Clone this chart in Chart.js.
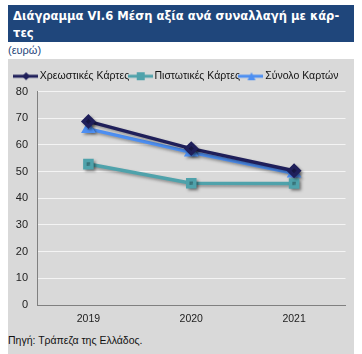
<!DOCTYPE html>
<html>
<head>
<meta charset="utf-8">
<script src="https://cdn.jsdelivr.net/npm/chart.js@4"></script>
<style>
  body { margin: 0; background: #fff; width: 362px; height: 354px; position: relative; overflow: hidden; }
  #titlos { position: absolute; left: 8px; top: 5px; width: 346px; height: 37px; background: #1f467b; color: #fff;
    padding: 2px 0 0 5px; box-sizing: border-box; overflow: hidden; }
  #titlos span { display: inline-block; white-space: nowrap; font: bold 13px "DejaVu Sans", sans-serif; line-height: 17px;
    transform: scaleX(0.89); transform-origin: left top; }
  #monada { position: absolute; left: 8px; top: 44px; font: 11px "Liberation Sans", sans-serif; color: #1f467b; }
  #fonto { position: absolute; left: 8px; top: 59px; width: 346px; height: 295px; background: #d9d9d9; }
  #pigi { position: absolute; left: 8px; top: 334px; font: 10.5px "Liberation Sans", sans-serif; color: #111; }
  #grafima { position: absolute; left: 8px; top: 59px; }
</style>
</head>
<body>
<div id="titlos"><span>Διάγραμμα VI.6 Μέση αξία ανά συναλλαγή με κάρ-<br>τες</span></div>
<div id="monada">(ευρώ)</div>
<div id="fonto"></div>
<canvas id="grafima" width="346" height="272"></canvas>
<div id="pigi">Πηγή: Τράπεζα της Ελλάδος.</div>
<script>
const eti = ["2019", "2020", "2021"];
const xreostikes = [68.8, 58.6, 50.3];
const pistotikes = [52.8, 45.6, 45.5];
const synolo = [66.0, 57.2, 49.4];
const yTicks = [0, 10, 20, 30, 40, 50, 60, 70, 80];

// μικρό εικονίδιο υπομνήματος: γραμμή με σημάδι
const legendIcon = (color, shape) => {
  const c = document.createElement("canvas");
  c.width = 25; c.height = 10;
  const g = c.getContext("2d");
  g.strokeStyle = color; g.fillStyle = color; g.lineWidth = 3;
  g.beginPath(); g.moveTo(0, 5); g.lineTo(25, 5); g.stroke();
  g.beginPath();
  if (shape === "rectRot") { g.moveTo(13, 1); g.lineTo(17, 5); g.lineTo(13, 9); g.lineTo(9, 5); }
  else if (shape === "rect") { g.rect(9, 1, 8, 8); }
  else { g.moveTo(13, 1); g.lineTo(17, 9); g.lineTo(9, 9); }
  g.closePath(); g.fill();
  return c;
};

const skia = {
  id: "skia",
  beforeDatasetsDraw(chart) {
    const ctx = chart.ctx;
    ctx.save();
    ctx.shadowColor = "rgba(0,0,0,0.35)";
    ctx.shadowBlur = 3;
    ctx.shadowOffsetX = 2;
    ctx.shadowOffsetY = 2;
  },
  afterDatasetsDraw(chart) { chart.ctx.restore(); }
};

const seires = [
  { label: "Χρεωστικές Κάρτες", data: xreostikes, color: "#1f1f5a", shape: "rectRot", r: 5 },
  { label: "Πιστωτικές Κάρτες", data: pistotikes, color: "#4fa2ab", shape: "rect", r: 5 },
  { label: "Σύνολο Καρτών", data: synolo, color: "#4d8ff2", shape: "triangle", r: 5 }
];

new Chart(document.getElementById("grafima"), {
  type: "line",
  data: {
    labels: eti,
    datasets: seires.map(s => ({
      label: s.label,
      data: s.data,
      borderColor: s.color,
      backgroundColor: s.color,
      borderWidth: 3.5,
      pointStyle: s.shape,
      pointRadius: s.r,
      pointHoverRadius: s.r,
      tension: 0
    }))
  },
  options: {
    responsive: false,
    animation: false,
    layout: { padding: { top: 10, right: 7, bottom: 8, left: 0 } },
    plugins: {
      tooltip: { enabled: false },
      legend: {
        position: "top",
        labels: {
          usePointStyle: true,
          pointStyleWidth: 18,
          padding: 2,
          color: "#111",
          font: { family: "Liberation Sans", size: 10.5 },
          generateLabels: (chart) => seires.map((s, i) => ({
            text: s.label,
            pointStyle: legendIcon(s.color, s.shape),
            fillStyle: s.color,
            strokeStyle: s.color,
            fontColor: "#111",
            lineWidth: 0,
            datasetIndex: i,
            hidden: false
          }))
        }
      }
    },
    scales: {
      x: {
        offset: true,
        grid: { display: false, drawTicks: false },
        border: { color: "#808080", width: 1 },
        afterFit: (axis) => { axis.height = 18; },
        ticks: { color: "#222", padding: 8, font: { family: "Liberation Sans", size: 10.5 } }
      },
      y: {
        min: 0,
        max: 80,
        afterBuildTicks: (axis) => { axis.ticks = yTicks.map(v => ({ value: v })); },
        afterFit: (axis) => { axis.width = 29; },
        grid: { color: "#f4f4f4", lineWidth: 1, drawTicks: false },
        border: { color: "#808080", width: 1 },
        ticks: { color: "#222", padding: 9, font: { family: "Liberation Sans", size: 11 } }
      }
    }
  },
  plugins: [skia]
});
</script>
</body>
</html>
